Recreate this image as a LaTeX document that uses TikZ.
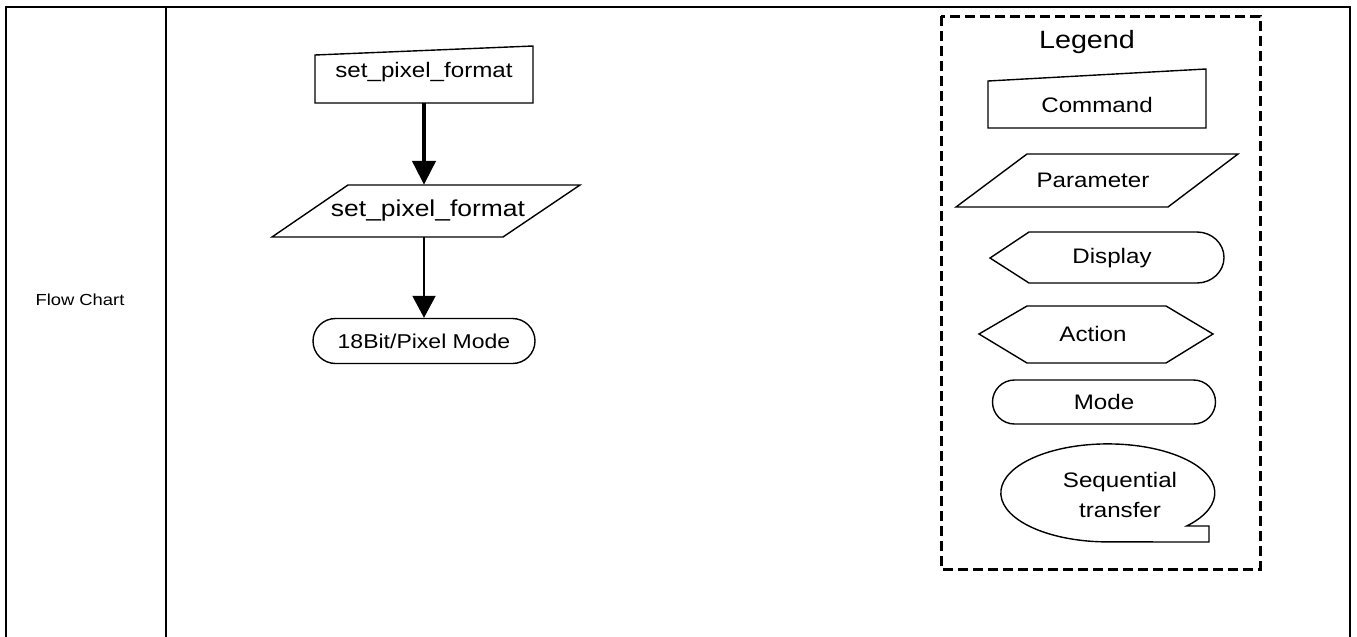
\documentclass[tikz,border=0pt]{standalone}
\usepackage{fontspec}
\setmainfont{Liberation Sans}[FakeStretch=1.15]
\usetikzlibrary{arrows.meta,shapes.misc}

\begin{document}
\begin{tikzpicture}[x=1pt,y=-1pt,every node/.style={font=\fontsize{21}{24}\selectfont,inner sep=0pt},
  outline/.style={draw,line width=1.4pt,line join=miter},
  modebox/.style={outline,rounded rectangle,minimum width=222pt,minimum height=45pt},
  frameline/.style={line width=2pt},
  lgdbox/.style={line width=3pt,dash pattern=on 10pt off 5pt}]
\useasboundingbox (0,0) rectangle (1357,637);
% table frame
\draw[frameline] (6,637) -- (6,7) -- (1350,7) -- (1350,637);
\draw[frameline] (166,7) -- (166,637);
\node[font=\fontsize{16}{19}\selectfont] (fc) at (80,300) {Flow Chart};

% flow chart
\draw[outline] (315,55) -- (533,46) -- (533,103) -- (315,103) -- cycle;
\node[minimum height=62pt] (cmd) at (424,72) {set\_pixel\_format};
\draw[outline] (348,185) -- (580,185) -- (503,237) -- (272,237) -- cycle;
\node[font=\fontsize{23}{27}\selectfont,minimum height=52pt] (par) at (428,211) {set\_pixel\_format};
\node[modebox,font=\fontsize{20}{23}\selectfont] (mode) at (424,341) {18Bit/Pixel Mode};
\draw[line width=4.5pt,-{Triangle[width=23pt,length=24pt]}] (cmd.south) -- (cmd.south |- par.north);
\draw[line width=2pt,-{Triangle[width=23pt,length=22pt]}] (par.south -| mode.north) -- (mode.north);

% legend
\draw[lgdbox] (941,16) rectangle (1260,569);
\node[font=\fontsize{25}{29}\selectfont] (lgd) at (1087,42) {Legend};
\draw[outline] (988,81) -- (1206,69) -- (1206,128) -- (988,128) -- cycle;
\node (lcmd) at (1097,105) {Command};
\draw[outline] (1027,154) -- (1238,154) -- (1168,207) -- (956,207) -- cycle;
\node (lpar) at (1093,180) {Parameter};
\draw[outline] (990,258) -- (1029,232) -- (1197,232) arc[start angle=90,end angle=-90,x radius=27pt,y radius=25.5pt] -- (1029,283) -- cycle;
\node (ldisp) at (1112,258) {Display};
\draw[outline] (979,334) -- (1027,306) -- (1166,306) -- (1213,334) -- (1166,363) -- (1027,363) -- cycle;
\node (lact) at (1093,334) {Action};
\node[modebox,minimum width=223pt,minimum height=44pt] (lmode) at (1104,402) {Mode};
\draw[outline] (1186.7,526) arc[start angle=-42.5,end angle=270,x radius=107pt,y radius=49pt] -- (1209,542) -- (1209,526) -- cycle;
\node[align=center,font=\fontsize{21}{30}\selectfont] (lseq) at (1120,495) {Sequential\\transfer};
\end{tikzpicture}
\end{document}
